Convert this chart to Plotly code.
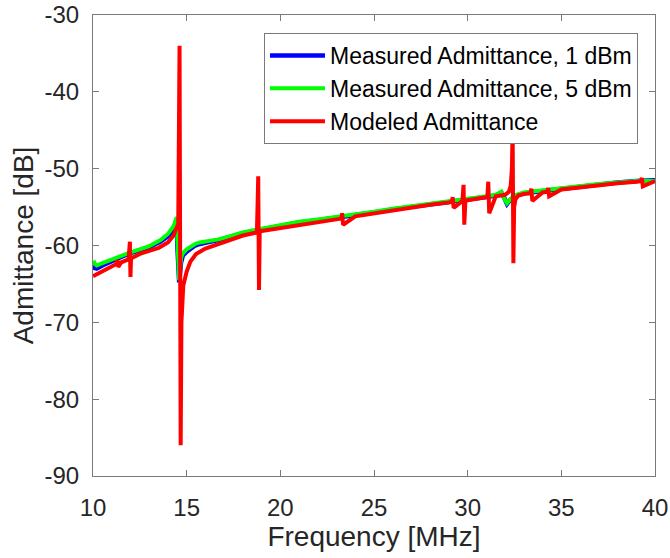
import plotly.graph_objects as go

# ---- data ----
freq_model = [10.0, 10.5, 11.0, 11.25, 11.3, 11.35, 11.5, 11.9, 11.97, 12.0, 12.03, 12.1, 12.5, 13.0, 13.5,
              14.0, 14.3, 14.45, 14.55, 14.62, 14.66, 14.68, 14.72, 14.76, 14.82, 14.9, 15.0, 15.2, 15.5,
              16.0, 16.6, 17.0, 18.0, 18.75, 18.82, 18.86, 18.9, 19.0, 20.0, 21.0, 22.0, 23.0, 23.25,
              23.3, 23.35, 24.0, 25.0, 26.0, 27.0, 28.0, 29.0, 29.15, 29.2, 29.25, 29.72, 29.78, 29.82,
              29.88, 30.0, 31.0, 31.05, 31.1, 31.15, 31.5, 32.0, 32.2, 32.3, 32.36, 32.4, 32.44, 32.48,
              32.55, 32.7, 33.0, 33.35, 33.4, 33.45, 34.0, 34.25, 34.3, 34.35, 35.0, 36.0, 37.0, 38.0,
              39.0, 39.25, 39.3, 39.35, 40.0]
adm_model = [-64.0, -63.3, -62.7, -62.4, -61.9, -62.8, -62.2, -61.8, -59.5, -64.1, -61.7, -61.6, -61.1, -60.7, -60.3,
             -59.6, -58.7, -57.8, -57.2, -34.0, -58.0, -86.0, -70.0, -66.5, -65.2, -64.4, -63.4, -62.1, -61.1,
             -60.4, -59.9, -59.5, -58.7, -58.3, -51.0, -65.8, -58.2, -58.1, -57.7, -57.3, -56.9, -56.6, -56.5,
             -55.8, -57.3, -56.2, -55.8, -55.4, -55.0, -54.7, -54.4, -54.3, -53.7, -55.1, -54.2, -52.1, -57.3,
             -54.2, -54.1, -53.8, -53.7, -51.7, -55.8, -53.6, -53.4, -53.0, -52.2, -50.0, -45.0, -62.3, -55.0,
             -54.0, -53.5, -53.3, -53.2, -52.6, -54.2, -53.1, -53.0, -52.5, -53.6, -52.7, -52.4, -52.2, -51.9,
             -51.7, -51.6, -51.2, -52.3, -51.6]

freq_meas = [10.0, 10.05, 10.1, 10.2, 10.5, 11.0, 11.5, 12.0, 12.5, 13.0, 13.6, 14.0, 14.3, 14.42, 14.47,
             14.5, 14.55, 14.6, 14.7, 14.8, 15.0, 15.2, 15.45, 15.7, 16.0, 16.3, 16.7, 17.0, 18.0, 19.0,
             20.0, 21.0, 22.0, 23.0, 24.0, 25.0, 26.0, 27.0, 28.0, 28.5, 29.0, 30.0, 31.0, 31.5, 31.8,
             31.95, 32.1, 32.3, 32.6, 33.0, 34.0, 35.0, 36.0, 37.0, 38.0, 39.0, 40.0]
adm_1dbm = [-63.2, -62.6, -62.9, -63.0, -62.6, -62.0, -61.5, -61.0, -60.6, -60.2, -59.5, -58.8, -57.9, -57.0, -56.6,
            -60.0, -64.8, -64.8, -62.2, -61.3, -60.8, -60.4, -60.0, -59.8, -59.6, -59.5, -59.3, -59.1, -58.4, -57.9,
            -57.4, -57.0, -56.7, -56.4, -56.0, -55.7, -55.3, -55.0, -54.7, -54.5, -54.3, -54.0, -53.7, -53.5, -53.1,
            -53.8, -54.6, -54.0, -53.5, -53.2, -52.9, -52.6, -52.3, -52.1, -51.8, -51.6, -51.5]
adm_5dbm = [-62.6, -62.0, -62.4, -62.6, -62.3, -61.8, -61.3, -60.9, -60.5, -60.1, -59.3, -58.5, -57.5, -56.6, -56.3,
            -59.0, -64.5, -64.5, -61.6, -61.0, -60.5, -60.2, -59.8, -59.6, -59.5, -59.3, -59.2, -59.0, -58.3, -57.8,
            -57.3, -56.9, -56.6, -56.3, -55.9, -55.6, -55.2, -54.9, -54.6, -54.4, -54.2, -53.9, -53.6, -53.4, -53.0,
            -53.9, -54.5, -53.9, -53.4, -53.1, -52.8, -52.6, -52.3, -52.0, -51.8, -51.6, -51.6]

x_ticks = [10, 15, 20, 25, 30, 35, 40]
y_ticks = [-90, -80, -70, -60, -50, -40, -30]

FONT = "Liberation Sans, Arial, sans-serif"
AXC = "#262626"

fig = go.Figure()
fig.add_trace(go.Scatter(x=freq_meas, y=adm_1dbm, mode="lines", name="Measured Admittance, 1 dBm",
                         line=dict(color="#0000ff", width=4.5)))
fig.add_trace(go.Scatter(x=freq_meas, y=adm_5dbm, mode="lines", name="Measured Admittance, 5 dBm",
                         line=dict(color="#00ff00", width=4)))
fig.add_trace(go.Scatter(x=freq_model, y=adm_model, mode="lines", name="Modeled Admittance",
                         line=dict(color="#ff0000", width=4)))

axis_common = dict(showgrid=False, zeroline=False, showline=True, linecolor="#7a7a7a", linewidth=1,
                   mirror="ticks", ticks="inside", ticklen=6, tickcolor="#7a7a7a", automargin=False,
                   tickfont=dict(family=FONT, size=24, color=AXC))

fig.update_layout(
    width=670, height=558,
    margin=dict(l=93, r=15, t=15, b=82, autoexpand=False),
    paper_bgcolor="white", plot_bgcolor="white",
    font=dict(family=FONT, color=AXC),
    xaxis=dict(range=[10, 40], tickvals=x_ticks, ticktext=[str(v) for v in x_ticks],
               title=dict(text="Frequency [MHz]", font=dict(family=FONT, size=28, color=AXC), standoff=4),
               ticklabelstandoff=10, **axis_common),
    yaxis=dict(range=[-90, -30], tickvals=y_ticks, ticktext=[str(v) for v in y_ticks],
               title=dict(text="Admittance [dB]", font=dict(family=FONT, size=28, color=AXC), standoff=2),
               ticklabelstandoff=8, **axis_common),
    legend=dict(x=0.9697, y=0.961, xanchor="right", yanchor="top", bgcolor="white",
                bordercolor="#7a7a7a", borderwidth=1, font=dict(family=FONT, size=23, color="black"),
                tracegroupgap=0, itemwidth=55),
    showlegend=True,
)

fig.write_html("out.html")
